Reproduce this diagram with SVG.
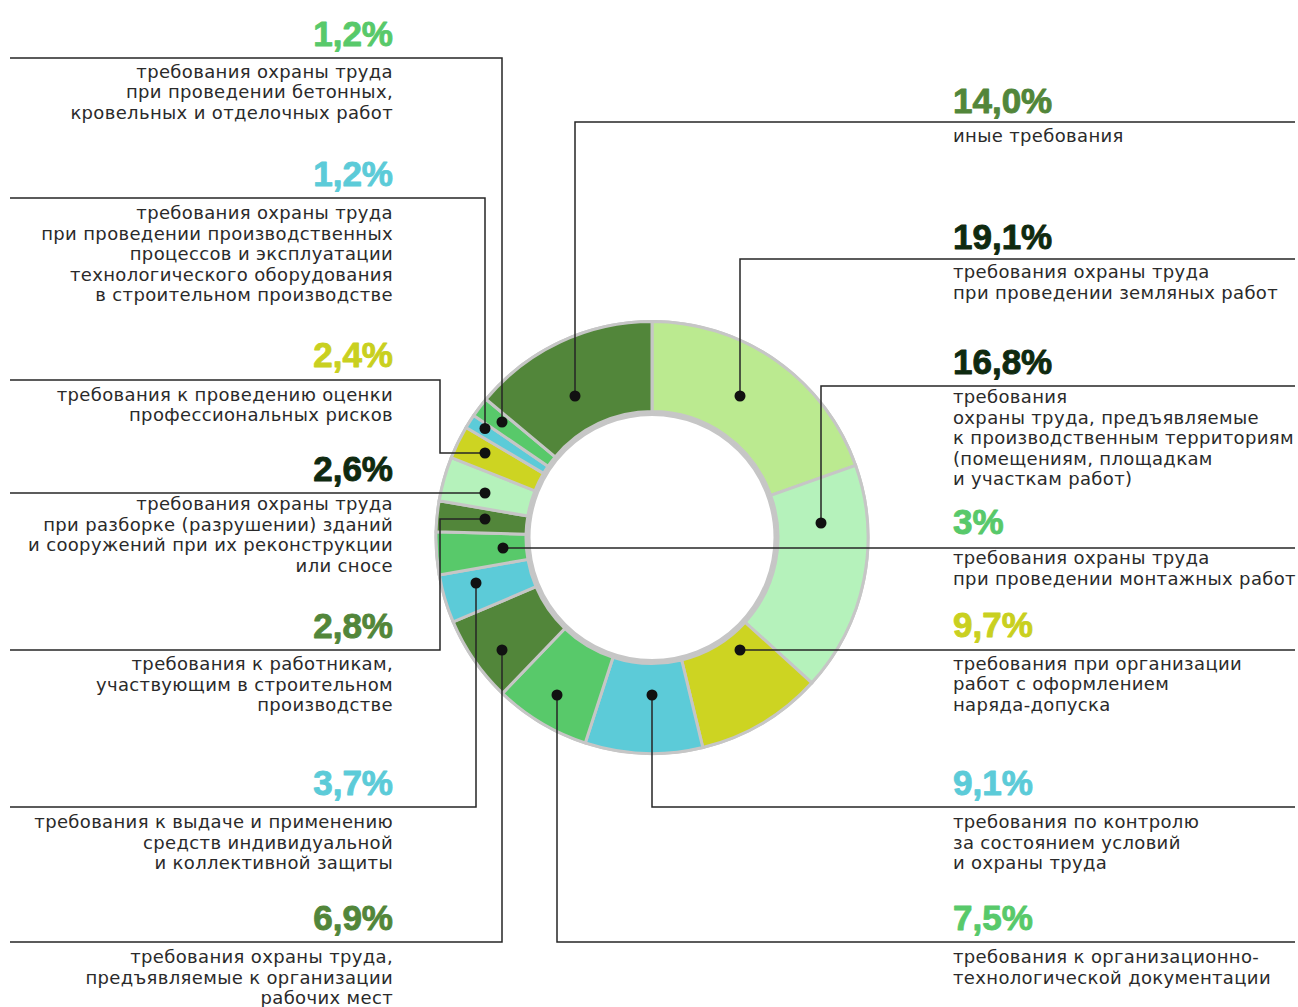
<svg xmlns="http://www.w3.org/2000/svg" width="1298" height="1007" viewBox="0 0 1298 1007">
<style>
.seg{stroke:#c6c6c6;stroke-width:3;stroke-linejoin:miter}
.lg{fill:#bbea90}.pg{fill:#b5f2bb}.ye{fill:#cdd422}.cy{fill:#5ccbd8}.gr{fill:#58c96a}.dg{fill:#52863a}
.ln{fill:none;stroke:#262626;stroke-width:1.5}
.dot{fill:#111}
.pct{font-family:"Liberation Sans",Arial,sans-serif;font-weight:bold;font-size:35px;stroke-width:0.9px;stroke-linejoin:round}
.t{font-family:"DejaVu Sans",sans-serif;font-size:18px;letter-spacing:0.35px;fill:#2a2a2a}
.l{text-anchor:end}
.cG{fill:#58c96a;stroke:#58c96a}.cC{fill:#5ccbd8;stroke:#5ccbd8}.cY{fill:#c9d020;stroke:#c9d020}.cK{fill:#0f2a10;stroke:#0f2a10}.cD{fill:#52863a;stroke:#52863a}
</style>
<rect width="1298" height="1007" fill="#fff"/>
<g id="donut">
<circle cx="652" cy="537.5" r="169.5" fill="none" stroke="#c6c6c6" stroke-width="96"/>
<path class="seg lg" d="M652,321.5 A216,216 0 0 1 855.61,465.40 L770.77,495.44 A126,126 0 0 0 652,411.5 Z"/>
<path class="seg pg" d="M855.61,465.40 A216,216 0 0 1 811.76,682.87 L745.19,622.30 A126,126 0 0 0 770.77,495.44 Z"/>
<path class="seg ye" d="M811.76,682.87 A216,216 0 0 1 702.79,747.44 L681.63,659.97 A126,126 0 0 0 745.19,622.30 Z"/>
<path class="seg cy" d="M702.79,747.44 A216,216 0 0 1 585.25,742.93 L613.06,657.33 A126,126 0 0 0 681.63,659.97 Z"/>
<path class="seg gr" d="M585.25,742.93 A216,216 0 0 1 502.50,693.40 L564.79,628.44 A126,126 0 0 0 613.06,657.33 Z"/>
<path class="seg dg" d="M502.50,693.40 A216,216 0 0 1 453.17,621.90 L536.02,586.73 A126,126 0 0 0 564.79,628.44 Z"/>
<path class="seg cy" d="M453.17,621.90 A216,216 0 0 1 439.28,575.01 L527.91,559.38 A126,126 0 0 0 536.02,586.73 Z"/>
<path class="seg gr" d="M439.28,575.01 A216,216 0 0 1 436.07,531.85 L526.04,534.20 A126,126 0 0 0 527.91,559.38 Z"/>
<path class="seg dg" d="M436.07,531.85 A216,216 0 0 1 439.15,500.73 L527.84,516.05 A126,126 0 0 0 526.04,534.20 Z"/>
<path class="seg pg" d="M439.15,500.73 A216,216 0 0 1 451.31,457.63 L534.93,490.91 A126,126 0 0 0 527.84,516.05 Z"/>
<path class="seg ye" d="M451.31,457.63 A216,216 0 0 1 466.08,427.55 L543.55,473.36 A126,126 0 0 0 534.93,490.91 Z"/>
<path class="seg cy" d="M466.08,427.55 A216,216 0 0 1 473.78,415.47 L548.04,466.31 A126,126 0 0 0 543.55,473.36 Z"/>
<path class="seg gr" d="M473.78,415.47 A216,216 0 0 1 486.05,399.24 L555.20,456.85 A126,126 0 0 0 548.04,466.31 Z"/>
<path class="seg dg" d="M486.05,399.24 A216,216 0 0 1 652,321.5 L652,411.5 A126,126 0 0 0 555.20,456.85 Z"/>
</g>
<g id="connectors">
<polyline class="ln" points="10,58 502,58 502,422"/>
<polyline class="ln" points="10,198 485,198 485,428"/>
<polyline class="ln" points="10,380 440,380 440,453 485,453"/>
<polyline class="ln" points="10,493 485,493"/>
<polyline class="ln" points="10,650 440,650 440,519 485,519"/>
<polyline class="ln" points="10,807 476,807 476,583"/>
<polyline class="ln" points="10,942 502,942 502,650"/>
<polyline class="ln" points="575,396 575,122 1295,122"/>
<polyline class="ln" points="740,396 740,259 1295,259"/>
<polyline class="ln" points="821,523 821,386 1295,386"/>
<polyline class="ln" points="503,548 1295,548"/>
<polyline class="ln" points="740,650 1295,650"/>
<polyline class="ln" points="652,695 652,807 1295,807"/>
<polyline class="ln" points="557,695 557,942 1295,942"/>
<circle class="dot" cx="502" cy="422" r="5.5"/>
<circle class="dot" cx="485" cy="428.5" r="5.5"/>
<circle class="dot" cx="485" cy="453" r="5.5"/>
<circle class="dot" cx="485" cy="493" r="5.5"/>
<circle class="dot" cx="485" cy="519" r="5.5"/>
<circle class="dot" cx="476" cy="583" r="5.5"/>
<circle class="dot" cx="502" cy="650" r="5.5"/>
<circle class="dot" cx="575" cy="396" r="5.5"/>
<circle class="dot" cx="740" cy="396" r="5.5"/>
<circle class="dot" cx="821" cy="523" r="5.5"/>
<circle class="dot" cx="503" cy="548" r="5.5"/>
<circle class="dot" cx="740" cy="650" r="5.5"/>
<circle class="dot" cx="652" cy="695" r="5.5"/>
<circle class="dot" cx="557" cy="695" r="5.5"/>
</g>
<g id="label-1-2-a">
<text class="pct l cG" x="393" y="46">1,2%</text>
<text class="t l" x="393" y="77.5">требования охраны труда</text>
<text class="t l" x="393" y="98">при проведении бетонных,</text>
<text class="t l" x="393" y="118.5">кровельных и отделочных работ</text>
</g>
<g id="label-1-2-b">
<text class="pct l cC" x="393" y="186">1,2%</text>
<text class="t l" x="393" y="219">требования охраны труда</text>
<text class="t l" x="393" y="239.5">при проведении производственных</text>
<text class="t l" x="393" y="260">процессов и эксплуатации</text>
<text class="t l" x="393" y="280.5">технологического оборудования</text>
<text class="t l" x="393" y="301">в строительном производстве</text>
</g>
<g id="label-2-4">
<text class="pct l cY" x="393" y="367">2,4%</text>
<text class="t l" x="393" y="400.5">требования к проведению оценки</text>
<text class="t l" x="393" y="421">профессиональных рисков</text>
</g>
<g id="label-2-6">
<text class="pct l cK" x="393" y="481">2,6%</text>
<text class="t l" x="393" y="510">требования охраны труда</text>
<text class="t l" x="393" y="530.5">при разборке (разрушении) зданий</text>
<text class="t l" x="393" y="551">и сооружений при их реконструкции</text>
<text class="t l" x="393" y="571.5">или сносе</text>
</g>
<g id="label-2-8">
<text class="pct l cD" x="393" y="638">2,8%</text>
<text class="t l" x="393" y="670">требования к работникам,</text>
<text class="t l" x="393" y="690.5">участвующим в строительном</text>
<text class="t l" x="393" y="711">производстве</text>
</g>
<g id="label-3-7">
<text class="pct l cC" x="393" y="795">3,7%</text>
<text class="t l" x="393" y="828">требования к выдаче и применению</text>
<text class="t l" x="393" y="848.5">средств индивидуальной</text>
<text class="t l" x="393" y="869">и коллективной защиты</text>
</g>
<g id="label-6-9">
<text class="pct l cD" x="393" y="930">6,9%</text>
<text class="t l" x="393" y="963">требования охраны труда,</text>
<text class="t l" x="393" y="983.5">предъявляемые к организации</text>
<text class="t l" x="393" y="1004">рабочих мест</text>
</g>
<g id="label-14-0">
<text class="pct cD" x="953" y="113">14,0%</text>
<text class="t" x="953" y="141.5">иные требования</text>
</g>
<g id="label-19-1">
<text class="pct cK" x="953" y="249">19,1%</text>
<text class="t" x="953" y="278">требования охраны труда</text>
<text class="t" x="953" y="298.5">при проведении земляных работ</text>
</g>
<g id="label-16-8">
<text class="pct cK" x="953" y="373.5">16,8%</text>
<text class="t" x="953" y="403">требования</text>
<text class="t" x="953" y="423.5">охраны труда, предъявляемые</text>
<text class="t" x="953" y="444">к производственным территориям</text>
<text class="t" x="953" y="464.5">(помещениям, площадкам</text>
<text class="t" x="953" y="485">и участкам работ)</text>
</g>
<g id="label-3">
<text class="pct cG" x="953" y="534">3%</text>
<text class="t" x="953" y="564">требования охраны труда</text>
<text class="t" x="953" y="584.5">при проведении монтажных работ</text>
</g>
<g id="label-9-7">
<text class="pct cY" x="953" y="637">9,7%</text>
<text class="t" x="953" y="669.5">требования при организации</text>
<text class="t" x="953" y="690">работ с оформлением</text>
<text class="t" x="953" y="710.5">наряда-допуска</text>
</g>
<g id="label-9-1">
<text class="pct cC" x="953" y="795">9,1%</text>
<text class="t" x="953" y="828">требования по контролю</text>
<text class="t" x="953" y="848.5">за состоянием условий</text>
<text class="t" x="953" y="869">и охраны труда</text>
</g>
<g id="label-7-5">
<text class="pct cG" x="953" y="930">7,5%</text>
<text class="t" x="953" y="963">требования к организационно-</text>
<text class="t" x="953" y="983.5">технологической документации</text>
</g>
</svg>
